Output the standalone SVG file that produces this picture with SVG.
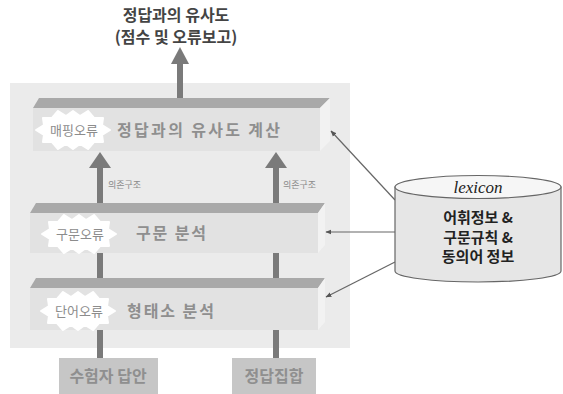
<svg xmlns="http://www.w3.org/2000/svg" width="563" height="394" viewBox="0 0 563 394">
<style>
.title{font-family:"Noto Sans CJK KR","Noto Sans",sans-serif;font-weight:bold;font-size:16px;fill:#444;text-anchor:middle}
.layer{font-family:"Noto Sans CJK KR","Noto Sans",sans-serif;font-weight:bold;font-size:16px;fill:#8f8f8f}
.err{font-family:"Noto Sans CJK KR","Noto Sans",sans-serif;font-size:13px;fill:#8c8c8c;text-anchor:middle}
.dep{font-family:"Noto Sans CJK KR","Noto Sans",sans-serif;font-size:9px;fill:#8a8a8a}
.inp{font-family:"Noto Sans CJK KR","Noto Sans",sans-serif;font-weight:bold;font-size:16px;fill:#8f8f8f;text-anchor:middle}
.lex{font-family:"Liberation Serif",serif;font-style:italic;font-size:17px;fill:#222;text-anchor:middle}
.lexb{font-family:"Noto Sans CJK KR","Noto Sans",sans-serif;font-weight:bold;font-size:15px;fill:#222;text-anchor:middle}
.shaft{fill:#7a7a7a}
.topf{fill:#a9a9a9}
.front{fill:#e2e2e2}
.side{fill:#f2f2f2}
.burst{fill:#ffffff}
.conn{stroke:#666;stroke-width:1.2;fill:none;marker-end:url(#ah)}
</style>
<defs>
<marker id="ah" viewBox="0 0 10 10" refX="9" refY="5" markerWidth="5" markerHeight="5" orient="auto">
<path d="M0,1 L10,5 L0,9 Z" fill="#555"/>
</marker>
<path id="star" d="M-37,0 L-29,-5 L-30,-12 L-21,-12 L-15,-19 L-7,-14 L0,-19 L7,-14 L15,-19 L21,-12 L30,-12 L29,-5 L37,0 L29,5 L30,12 L21,12 L15,19 L7,14 L0,19 L-7,14 L-15,19 L-21,12 L-30,12 L-29,5 Z" stroke="#fff" stroke-width="2" stroke-linejoin="round"/>
</defs>

<g id="title">
<text class="title" x="176" y="21">정답과의 유사도</text>
<text class="title" x="176" y="43">(점수 및 오류보고)</text>
</g>

<rect id="panel" x="10" y="83" width="340" height="265" fill="#ebebeb"/>

<g id="connectors">
<rect class="shaft" x="177" y="60" width="6" height="40"/>
<path class="shaft" d="M171,64 L180,47 L189,64 Z"/>
<rect class="shaft" x="97" y="164" width="6" height="42"/>
<path class="shaft" d="M89,168 L100,152 L111,168 Z"/>
<rect class="shaft" x="273" y="164" width="6" height="42"/>
<path class="shaft" d="M265,168 L276,152 L287,168 Z"/>
<rect class="shaft" x="97" y="253" width="6" height="27"/>
<rect class="shaft" x="273" y="253" width="6" height="27"/>
<rect class="shaft" x="97" y="330" width="6" height="28"/>
<rect class="shaft" x="273" y="330" width="6" height="28"/>
<line class="conn" x1="395" y1="200" x2="331" y2="131"/>
<line class="conn" x1="395" y1="232" x2="326" y2="232"/>
<line class="conn" x1="395" y1="262" x2="326" y2="297"/>
</g>

<g id="layer-similarity">
<polygon class="topf" points="33,108 39,98 330,98 320,108"/>
<rect class="front" x="33" y="108" width="287" height="43"/>
<polygon class="side" points="320,108 330,98 330,141 320,151"/>
<use href="#star" class="burst" x="73" y="130"/>
<text class="err" x="74" y="135">매핑오류</text>
<text class="layer" x="117" y="136" textLength="163">정답과의 유사도 계산</text>
</g>

<g id="dep-labels">
<text class="dep" x="108" y="188">의존구조</text>
<text class="dep" x="283" y="188">의존구조</text>
</g>

<g id="layer-syntax">
<polygon class="topf" points="30,213 36,203 325,203 318,213"/>
<rect class="front" x="30" y="213" width="288" height="40"/>
<polygon class="side" points="318,213 325,203 325,245 318,253"/>
<use href="#star" class="burst" x="79" y="234"/>
<text class="err" x="80" y="239">구문오류</text>
<text class="layer" x="136" y="239" textLength="70">구문 분석</text>
</g>

<g id="layer-morph">
<polygon class="topf" points="30,288 36,278 325,278 318,288"/>
<rect class="front" x="30" y="288" width="288" height="42"/>
<polygon class="side" points="318,288 325,278 325,322 318,330"/>
<use href="#star" class="burst" x="78" y="311"/>
<text class="err" x="79" y="316">단어오류</text>
<text class="layer" x="127" y="317" textLength="87">형태소 분석</text>
</g>

<g id="input-answer">
<rect x="59" y="358" width="99" height="36" fill="#c6c6c6"/>
<text class="inp" x="108" y="382">수험자 답안</text>
</g>

<g id="input-key">
<rect x="232" y="358" width="84" height="36" fill="#c6c6c6"/>
<text class="inp" x="274" y="382">정답집합</text>
</g>

<g id="lexicon">
<path d="M395,187 L395,271 A83,11 0 0 0 561,271 L561,187 Z" fill="#e6e6e6" stroke="#666" stroke-width="1.2"/>
<ellipse cx="478" cy="187" rx="83" ry="11.5" fill="#f6f6f6" stroke="#666" stroke-width="1.2"/>
<text class="lex" x="478" y="193">lexicon</text>
<text class="lexb" x="478" y="223">어휘정보 &amp;</text>
<text class="lexb" x="478" y="243">구문규칙 &amp;</text>
<text class="lexb" x="478" y="262">동의어 정보</text>
</g>
</svg>
